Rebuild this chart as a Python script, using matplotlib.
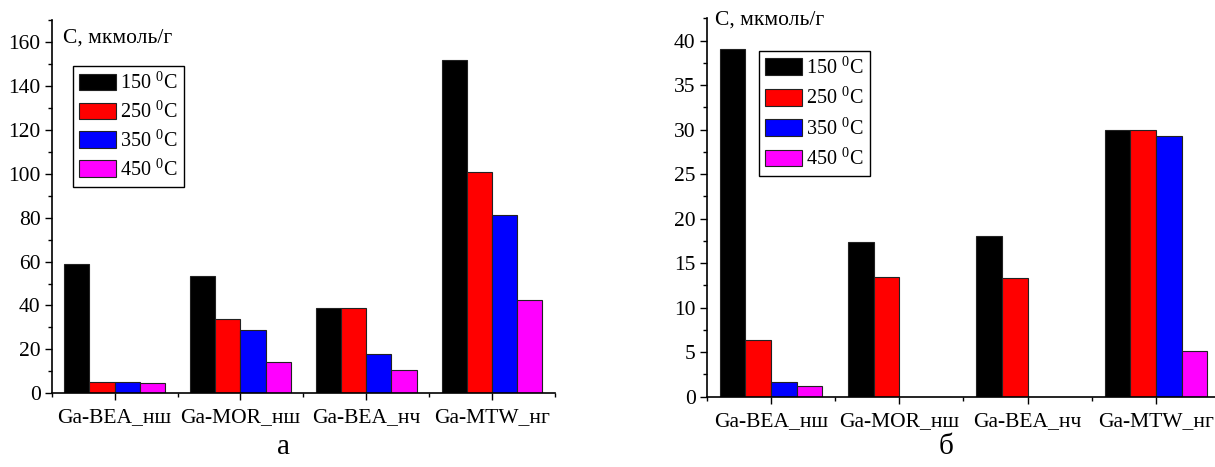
import numpy as np
import matplotlib
matplotlib.use('Agg')
import matplotlib.pyplot as plt
from matplotlib.ticker import MultipleLocator

plt.rcParams['font.family'] = ['Liberation Serif', 'DejaVu Serif']
plt.rcParams['mathtext.fontset'] = 'custom'
plt.rcParams['mathtext.rm'] = 'Liberation Serif'

samples = ['Ga-BEA_нш', 'Ga-MOR_нш', 'Ga-BEA_нч', 'Ga-MTW_нг']
temps = [r'150 $^\mathrm{0}$C', r'250 $^\mathrm{0}$C', r'350 $^\mathrm{0}$C', r'450 $^\mathrm{0}$C']
colors = ['#000000', '#ff0000', '#0000ff', '#ff00ff']

# panel а
vals_a = [
    [59.0, 53.4, 39.0, 151.9],
    [5.0, 33.9, 39.0, 101.0],
    [5.0, 28.7, 18.0, 81.2],
    [4.9, 14.1, 10.5, 42.5],
]
# panel б
vals_b = [
    [39.1, 17.4, 18.1, 30.0],
    [6.4, 13.4, 13.3, 29.9],
    [1.6, 0.0, 0.0, 29.3],
    [1.2, 0.0, 0.0, 5.1],
]

W, H = 1215, 467
fig = plt.figure(figsize=(W / 100, H / 100), dpi=100)
ax1 = fig.add_axes([51.7 / W, 73.7 / H, 503.3 / W, 373.3 / H])
ax2 = fig.add_axes([706.7 / W, 70.3 / H, 513.3 / W, 378.4 / H])

x = np.arange(1, len(samples) + 1)
bw = 0.2
fs = 15.5

def draw(ax, vals, ymax, major, minor, leg_xy, lab_xy, lsp):
    for i, v in enumerate(vals):
        ax.bar(x - 0.3 + i * bw, v, width=bw, color=colors[i], edgecolor='#222222',
               linewidth=0.8, label=temps[i], zorder=2)
    ax.set_xlim(0.5, 4.5)
    ax.set_ylim(0, ymax)
    ax.set_xticks(x)
    ax.set_xticklabels(samples, fontsize=fs)
    ax.xaxis.set_minor_locator(MultipleLocator(0.5))
    ax.yaxis.set_major_locator(MultipleLocator(major))
    ax.yaxis.set_minor_locator(MultipleLocator(minor))
    ax.tick_params(axis='both', which='major', direction='out', length=5, width=1, labelsize=fs)
    ax.tick_params(axis='both', which='minor', direction='out', length=3, width=1)
    ax.tick_params(axis='x', which='major', pad=6)
    ax.tick_params(axis='y', which='major', pad=3)
    for s in ['top', 'right']:
        ax.spines[s].set_visible(False)
    for s in ['left', 'bottom']:
        ax.spines[s].set_linewidth(1.2)
        ax.spines[s].set_zorder(3)
    ax.text(lab_xy[0], lab_xy[1], 'С, мкмоль/г', transform=ax.transAxes,
            fontsize=fs, va='center', ha='left')
    leg = ax.legend(loc='upper left', bbox_to_anchor=leg_xy, borderaxespad=0,
                    fontsize=14.5, fancybox=False, framealpha=1, edgecolor='black',
                    handlelength=1.85, handleheight=0.9, handletextpad=0.2,
                    labelspacing=lsp, borderpad=0.3)
    leg.get_frame().set_linewidth(1.0)

draw(ax1, vals_a, 170, 20, 10, (0.042, 0.877), (0.022, 0.952), 0.35)
draw(ax2, vals_b, 42.5, 5, 2.5, (0.102, 0.914), (0.016, 0.995), 0.42)

fig.text(283 / W, 1 - 447 / H, 'а', fontsize=21, ha='center', va='center')
fig.text(946 / W, 1 - 447 / H, 'б', fontsize=21, ha='center', va='center')

fig.savefig('out.png', dpi=100)
